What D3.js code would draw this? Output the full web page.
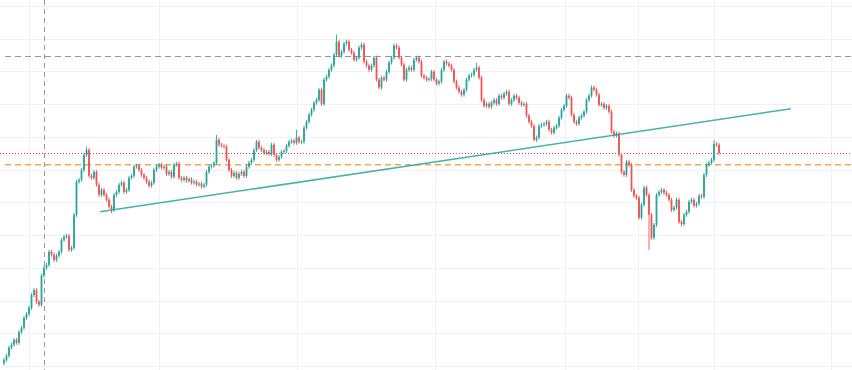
<!DOCTYPE html>
<html>
<head>
<meta charset="utf-8">
<script src="https://cdn.jsdelivr.net/npm/d3@7"></script>
<style>
  body { margin: 0; background: #ffffff; }
  svg { display: block; }
</style>
</head>
<body>
<div id="chart"></div>
<script>
// frame
const FRAME_WIDTH = 852;
const FRAME_HEIGHT = 370;

// closing prices, one per bar
const closes = [
  41.9, 43.1, 45.6, 46.5, 48.0, 47.1, 50.4, 51.7, 54.7, 55.9,
  57.8, 61.7, 63.2, 59.6, 58.7, 67.6, 70.0, 70.9, 74.9, 74.0,
  72.4, 73.7, 74.9, 78.5, 79.5, 79.8, 75.5, 76.1, 86.2, 96.3,
  96.9, 99.9, 104.5, 106.0, 98.1, 97.5, 99.3, 95.4, 92.3, 93.8,
  92.3, 90.8, 88.7, 87.7, 92.3, 93.2, 95.4, 96.0, 93.2, 93.8,
  97.5, 98.1, 100.9, 101.2, 99.9, 98.4, 97.5, 96.3, 95.1, 96.0,
  99.9, 100.9, 101.5, 100.6, 100.9, 98.7, 99.3, 97.8, 101.5, 101.8,
  97.5, 96.9, 97.5, 96.6, 97.1, 96.0, 96.3, 95.4, 95.7, 94.8,
  95.4, 99.3, 100.9, 101.2, 102.1, 109.1, 107.6, 107.3, 107.0, 103.0,
  99.9, 98.1, 99.0, 97.5, 98.7, 99.3, 98.1, 100.9, 102.1, 103.0,
  106.0, 108.5, 106.7, 106.0, 105.1, 105.4, 104.8, 107.6, 104.5, 103.0,
  103.9, 105.4, 105.7, 107.3, 108.5, 108.8, 108.2, 109.8, 108.5, 108.5,
  112.8, 114.6, 116.8, 118.3, 120.4, 121.3, 124.4, 120.1, 127.5, 128.4,
  130.5, 131.8, 135.1, 139.1, 134.8, 136.0, 138.5, 139.1, 136.6, 135.7,
  133.6, 134.2, 137.3, 138.2, 133.0, 131.8, 130.5, 131.8, 134.2, 127.5,
  125.1, 128.1, 127.5, 129.9, 132.7, 134.2, 137.9, 137.3, 134.2, 132.1,
  127.5, 130.5, 131.2, 130.5, 133.6, 134.2, 133.0, 128.7, 128.1, 127.5,
  127.7, 129.9, 127.5, 126.3, 126.9, 130.5, 133.0, 132.4, 131.8, 130.5,
  126.9, 125.1, 123.8, 122.9, 124.4, 127.5, 128.7, 129.0, 130.5, 131.2,
  128.1, 121.3, 119.5, 120.1, 119.2, 120.4, 121.3, 120.1, 122.6, 122.0,
  123.2, 123.8, 120.1, 121.3, 122.6, 122.0, 120.4, 119.8, 120.1, 116.5,
  114.6, 113.4, 109.1, 109.8, 113.4, 113.7, 114.0, 114.6, 112.2, 111.3,
  112.8, 113.4, 115.9, 118.3, 119.5, 122.6, 122.0, 116.8, 114.6, 114.0,
  115.9, 116.5, 117.7, 121.3, 122.6, 125.1, 124.4, 122.9, 119.8, 120.1,
  118.9, 119.5, 117.7, 111.6, 110.4, 111.0, 104.5, 99.3, 98.4, 102.4,
  101.5, 93.8, 92.0, 91.4, 85.3, 89.3, 94.5, 92.3, 86.2, 79.2,
  83.1, 92.3, 93.2, 93.8, 92.9, 92.3, 90.8, 87.7, 88.4, 90.8,
  84.0, 83.4, 86.2, 87.1, 90.2, 90.8, 89.0, 89.6, 92.0, 91.7,
  98.4, 101.5, 102.1, 103.0, 107.9, 107.6, 105.1
];
const firstOpen = 40.8;

// bars whose wick reaches well past the body: [bar, price]
const spikeHighs = [[33, 107.0], [85, 110.6], [117, 112.2], [133, 141.3], [189, 132.6], [235, 125.7], [284, 109.1]];
const spikeLows = [[43, 86.7], [212, 108.6], [258, 75.5], [271, 82.6]];

// price grid and time grid (bar index of each vertical grid line)
const priceTicks = [40, 50, 60, 70, 80, 90, 100, 110, 120, 130, 140, 150];
const timeGrid = [10, 62, 117, 172.5, 224.5, 253.5, 284, 331];

// drawings on the chart
const trendBars = [38.4, 314.8];
const trendPrices = [87.1, 118.6];
const crossBar = 16;
const crossPrice = 134.8;
const lastPrice = 105.1;
const alertPrice = 101.5;

const highMap = new Map(spikeHighs);
const lowMap = new Map(spikeLows);

// build bars
const bars = closes.map(function (c, i) {
  const o = i === 0 ? firstOpen : closes[i - 1];
  return { i: i, open: o, close: c, high: highMap.get(i), low: lowMap.get(i) };
});

const svg = d3.select('#chart')
  .append('svg')
    .attr('width', FRAME_WIDTH)
    .attr('height', FRAME_HEIGHT);

svg.append('rect')
  .attr('width', FRAME_WIDTH)
  .attr('height', FRAME_HEIGHT)
  .attr('fill', '#ffffff');

const xScale = d3.scaleLinear()
  .domain([0, closes.length - 1])
  .range([4, 719]);

const yScale = d3.scaleLinear()
  .domain([38.78, 151.83])
  .range([FRAME_HEIGHT, 0]);

const crisp = v => Math.round(v) + 0.5;

// grid
svg.append('g')
  .selectAll('line')
  .data(priceTicks)
  .enter()
  .append('line')
    .attr('x1', 0)
    .attr('x2', FRAME_WIDTH)
    .attr('y1', d => crisp(yScale(d)))
    .attr('y2', d => crisp(yScale(d)))
    .attr('stroke', '#eef1f6')
    .attr('stroke-width', 1);

svg.append('g')
  .selectAll('line')
  .data(timeGrid)
  .enter()
  .append('line')
    .attr('x1', d => crisp(xScale(d)))
    .attr('x2', d => crisp(xScale(d)))
    .attr('y1', 0)
    .attr('y2', FRAME_HEIGHT)
    .attr('stroke', '#eef1f6')
    .attr('stroke-width', 1);

// horizontal levels
svg.append('line')
  .attr('x1', 5).attr('x2', FRAME_WIDTH)
  .attr('y1', crisp(yScale(crossPrice))).attr('y2', crisp(yScale(crossPrice)))
  .attr('stroke', '#9598a1')
  .attr('stroke-width', 1)
  .attr('stroke-dasharray', '6,4');

svg.append('line')
  .attr('x1', 5).attr('x2', FRAME_WIDTH)
  .attr('y1', yScale(alertPrice)).attr('y2', yScale(alertPrice))
  .attr('stroke', '#f7a54a')
  .attr('stroke-width', 1.5)
  .attr('stroke-dasharray', '6,4');

svg.append('line')
  .attr('x1', 0).attr('x2', FRAME_WIDTH)
  .attr('y1', crisp(yScale(lastPrice))).attr('y2', crisp(yScale(lastPrice)))
  .attr('stroke', '#f23645')
  .attr('stroke-width', 1)
  .attr('stroke-dasharray', '1,2');

// crosshair
svg.append('line')
  .attr('x1', crisp(xScale(crossBar))).attr('x2', crisp(xScale(crossBar)))
  .attr('y1', 0).attr('y2', FRAME_HEIGHT)
  .attr('stroke', '#9598a1')
  .attr('stroke-width', 1)
  .attr('stroke-dasharray', '5,4');

// candles
const UP = '#26a69a', DOWN = '#ef5350';
const candles = svg.append('g')
  .selectAll('g')
  .data(bars)
  .enter()
  .append('g');

candles.append('line')
  .attr('x1', d => xScale(d.i))
  .attr('x2', d => xScale(d.i))
  .attr('y1', d => d.high !== undefined ? yScale(d.high) : yScale(Math.max(d.open, d.close)) - 2)
  .attr('y2', d => d.low !== undefined ? yScale(d.low) : yScale(Math.min(d.open, d.close)) + 2)
  .attr('stroke', d => d.close >= d.open ? UP : DOWN)
  .attr('stroke-width', 0.9);

candles.append('rect')
  .attr('x', d => xScale(d.i) - 0.9)
  .attr('width', 1.8)
  .attr('y', d => yScale(Math.max(d.open, d.close)))
  .attr('height', d => Math.max(1, Math.abs(yScale(d.open) - yScale(d.close))))
  .attr('fill', d => d.close >= d.open ? UP : DOWN);

// trend line
svg.append('line')
  .attr('x1', xScale(trendBars[0])).attr('y1', yScale(trendPrices[0]))
  .attr('x2', xScale(trendBars[1])).attr('y2', yScale(trendPrices[1]))
  .attr('stroke', '#26a69a')
  .attr('stroke-opacity', 0.85)
  .attr('stroke-width', 1.5);
</script>
</body>
</html>
